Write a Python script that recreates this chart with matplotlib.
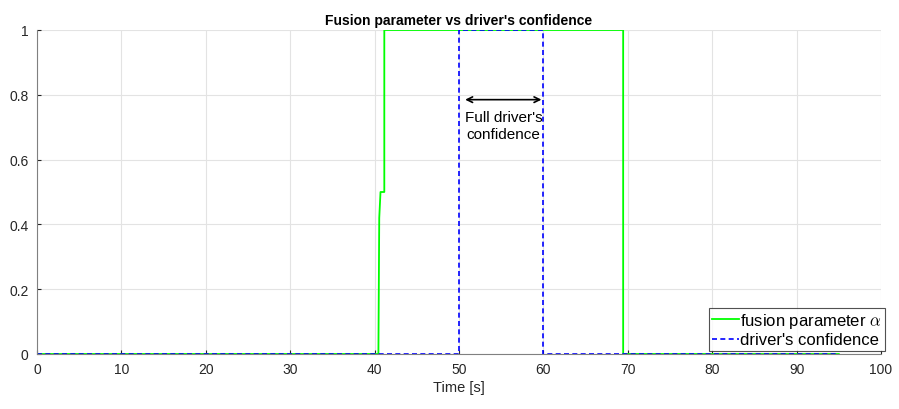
import matplotlib
matplotlib.use("Agg")
import matplotlib.pyplot as plt

plt.rcParams['font.family'] = ['Liberation Sans', 'DejaVu Sans']
plt.rcParams['mathtext.fontset'] = 'cm'

# data
t_alpha = [0, 40.45, 40.55, 40.7, 41.15, 41.15, 69.45, 69.45, 95]
alpha = [0, 0, 0.42, 0.5, 0.5, 1, 1, 0, 0]
t_conf = [0, 50, 50, 60, 60, 95]
conf = [0, 0, 1, 1, 0, 0]
x_ticks = [0, 10, 20, 30, 40, 50, 60, 70, 80, 90, 100]
y_ticks = [0, 0.2, 0.4, 0.6, 0.8, 1]
y_tick_labels = ['0', '0.2', '0.4', '0.6', '0.8', '1']

fig = plt.figure(figsize=(8.99, 4.10), dpi=100)
ax = fig.add_axes([37/899, (410-355)/410, (881-37)/899, (355-31)/410])

ax.plot(t_alpha, alpha, color='#00ff00', lw=1.3, label=r"fusion parameter $\alpha$")
ax.plot(t_conf, conf, color='#0000ff', lw=1.2, ls=(0, (3, 2)), label="driver's confidence")

ax.set_xlim(0, 100)
ax.set_ylim(0, 1)
ax.set_xticks(x_ticks)
ax.set_yticks(y_ticks)
ax.set_yticklabels(y_tick_labels)
ax.grid(True, color='#e3e3e3', lw=0.8)
ax.set_axisbelow(True)
for s in ['top', 'right']:
    ax.spines[s].set_visible(False)
for s in ['left', 'bottom']:
    ax.spines[s].set_color('#808080')
ax.tick_params(direction='in', length=3, labelsize=10, colors='#262626', pad=6)
ax.set_xlabel('Time [s]', fontsize=10.5, color='#262626', labelpad=3)
ax.set_title("Fusion parameter vs driver's confidence", fontsize=10, fontweight='bold', pad=4)

ax.annotate('', xy=(50.4, 0.785), xytext=(60.1, 0.785),
            arrowprops=dict(arrowstyle='<->', color='black', lw=1.2))
ax.text(55.3, 0.705, "Full driver's\nconfidence", ha='center', va='center', fontsize=11,
        linespacing=1.25)

leg = ax.legend(loc='lower right', bbox_to_anchor=(1.005, 0.01), fontsize=12, frameon=True,
                fancybox=False, edgecolor='#262626', handlelength=1.6, handletextpad=0.1,
                borderpad=0.2, labelspacing=0.15, borderaxespad=0.0)
leg.get_frame().set_linewidth(0.8)

fig.savefig('out.png', dpi=100)
